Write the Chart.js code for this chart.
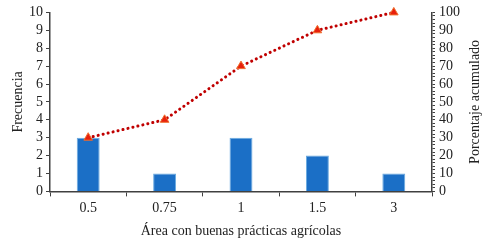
<!DOCTYPE html>
<html>
<head>
<meta charset="utf-8">
<script src="https://cdn.jsdelivr.net/npm/chart.js@4"></script>
<style>
  html, body { margin: 0; padding: 0; background: #fff; }
  #wrap { width: 491px; height: 248px; }
</style>
</head>
<body>
<div id="wrap"><canvas id="chart" width="491" height="248"></canvas></div>
<script>
const categories = ['0.5', '0.75', '1', '1.5', '3'];
const frequency = [3, 1, 3, 2, 1];
const cumulativePct = [30, 40, 70, 90, 100];

const font = { family: 'Liberation Serif', size: 14 };
const axisColor = '#404040';

// right axis title reads bottom-to-top like the left one
const rightTitle = {
  id: 'rightTitle',
  afterDraw(chart) {
    const c = chart.ctx;
    const s = chart.scales.y2;
    c.save();
    c.translate(s.right - 14, (s.top + s.bottom) / 2);
    c.rotate(-Math.PI / 2);
    c.font = '14px "Liberation Serif"';
    c.fillStyle = '#222';
    c.textAlign = 'center';
    c.textBaseline = 'middle';
    c.fillText('Porcentaje acumulado', 0, 0);
    c.restore();
  }
};

const ctx = document.getElementById('chart').getContext('2d');
new Chart(ctx, {
  data: {
    labels: categories,
    datasets: [
      {
        type: 'line',
        label: 'Porcentaje acumulado',
        data: cumulativePct,
        yAxisID: 'y2',
        borderColor: '#c00000',
        borderWidth: 3,
        borderDash: [0.1, 5],
        borderCapStyle: 'round',
        pointStyle: 'triangle',
        pointRadius: 5,
        pointBackgroundColor: '#e8200c',
        pointBorderColor: '#f07030',
        pointBorderWidth: 1,
        tension: 0,
        clip: false,
        order: 0
      },
      {
        type: 'bar',
        label: 'Frecuencia',
        data: frequency,
        yAxisID: 'y',
        backgroundColor: '#1b6fc6',
        borderColor: '#6aaae0',
        borderWidth: 1,
        barPercentage: 0.3,
        categoryPercentage: 1,
        order: 1
      }
    ]
  },
  options: {
    responsive: false,
    animation: false,
    layout: { padding: { top: 12, right: 2, left: 6, bottom: 4 } },
    plugins: { legend: { display: false }, tooltip: { enabled: false } },
    scales: {
      x: {
        grid: { display: true, drawOnChartArea: false, offset: true, color: axisColor, tickLength: 5 },
        border: { color: axisColor, width: 1.5 },
        ticks: { color: '#222', font: font, padding: 4 },
        title: { display: true, text: 'Área con buenas prácticas agrícolas', color: '#222', font: font, padding: { top: 2 } }
      },
      y: {
        position: 'left',
        min: 0, max: 10,
        grid: { drawOnChartArea: false, color: axisColor, tickLength: 4 },
        border: { color: axisColor, width: 1.5 },
        ticks: { stepSize: 1, autoSkip: false, color: '#222', font: font, padding: 3 },
        title: { display: true, text: 'Frecuencia', color: '#222', font: font, padding: { bottom: 2 } },
        afterFit: s => { s.width = 44; }
      },
      y2: {
        position: 'right',
        min: 0, max: 100,
        grid: { drawOnChartArea: false, color: axisColor, tickLength: 3 },
        border: { color: axisColor, width: 1.5 },
        ticks: {
          stepSize: 2, autoSkip: false, color: '#222', font: font, padding: 4,
          callback: v => (v % 10 === 0 ? v : '')
        },
        afterFit: s => { s.width = 57; }
      }
    }
  },
  plugins: [rightTitle]
});
</script>
</body>
</html>
